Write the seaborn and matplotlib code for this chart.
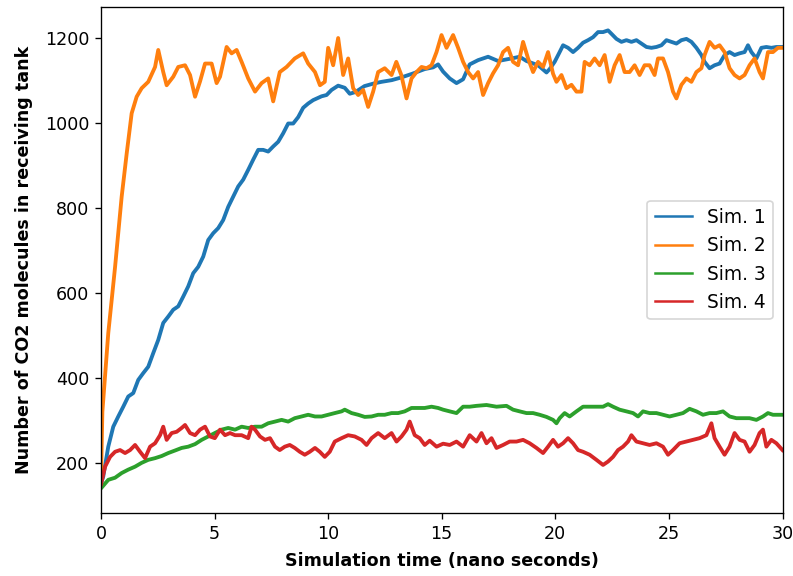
import numpy as np
import pandas as pd
import matplotlib
matplotlib.use("Agg")
import matplotlib.pyplot as plt
import seaborn as sns

# ---- Sim. 1 ----
t_sim1 = [0.0, 0.1, 0.32, 0.54, 0.76, 0.98, 1.2, 1.42, 1.64, 1.86, 2.08, 2.3, 2.52, 2.74, 2.96,
          3.18, 3.4, 3.62, 3.84, 4.06, 4.28, 4.5, 4.72, 4.94, 5.16, 5.38, 5.6, 5.82, 6.04, 6.26,
          6.48, 6.7, 6.92, 7.14, 7.36, 7.58, 7.8, 8.02, 8.24, 8.46, 8.68, 8.9, 9.12, 9.34, 9.71,
          9.93, 10.15, 10.44, 10.73, 10.95, 11.2, 11.6, 12.0, 12.35, 12.8, 13.2, 13.7, 14.25,
          14.62, 14.84, 15.06, 15.35, 15.65, 15.94, 16.23, 16.6, 17.04, 17.48, 18.07, 18.43,
          18.73, 19.24, 19.61, 19.75, 19.97, 20.19, 20.34, 20.56, 20.78, 21.0, 21.22, 21.44,
          21.66, 21.88, 22.1, 22.32, 22.47, 22.69, 22.91, 23.13, 23.35, 23.57, 23.79, 24.01,
          24.23, 24.45, 24.67, 24.89, 25.11, 25.33, 25.55, 25.77, 25.99, 26.21, 26.43, 26.57,
          26.79, 27.01, 27.23, 27.45, 27.67, 27.89, 28.11, 28.33, 28.48, 28.63, 28.85, 29.07,
          29.29, 29.51, 29.73, 30.0]
n_sim1 = [150, 168, 238, 285, 309, 332, 356, 364, 395, 411, 426, 458, 489, 529, 544,
          560, 568, 591, 615, 646, 661, 685, 724, 740, 752, 771, 802, 826, 850, 866,
          889, 913, 936, 936, 932, 944, 955, 975, 998, 998, 1013, 1035, 1045, 1053, 1062,
          1065, 1077, 1087, 1082, 1068, 1072, 1086, 1092, 1096, 1100, 1106, 1115, 1126,
          1130, 1137, 1120, 1104, 1093, 1102, 1137, 1147, 1155, 1145, 1151, 1155,
          1145, 1135, 1118, 1126, 1143, 1166, 1182, 1176, 1166, 1176, 1188, 1194,
          1201, 1213, 1213, 1217, 1209, 1197, 1190, 1194, 1190, 1194, 1186, 1178,
          1176, 1178, 1182, 1194, 1190, 1186, 1194, 1197, 1190, 1176, 1159, 1143,
          1128, 1135, 1139, 1159, 1166, 1159, 1163, 1166, 1182, 1166, 1151, 1176,
          1178, 1176, 1178, 1178]

# ---- Sim. 2 ----
t_sim2 = [0.0, 0.06, 0.32, 0.62, 0.91, 1.13, 1.35, 1.57, 1.79, 2.08, 2.38, 2.52, 2.74, 2.89,
          3.18, 3.4, 3.7, 3.92, 4.14, 4.36, 4.58, 4.87, 5.09, 5.24, 5.53, 5.75, 5.97, 6.19,
          6.48, 6.78, 7.07, 7.36, 7.58, 7.87, 8.17, 8.53, 8.9, 9.12, 9.42, 9.64, 9.85, 10.0,
          10.22, 10.44, 10.66, 10.88, 11.1, 11.32, 11.54, 11.76, 11.98, 12.2, 12.49, 12.79,
          13.0, 13.22, 13.45, 13.67, 13.89, 14.11, 14.33, 14.55, 14.77, 14.99, 15.21, 15.5,
          15.72, 15.94, 16.16, 16.38, 16.6, 16.82, 17.04, 17.26, 17.48, 17.7, 17.92, 18.14,
          18.36, 18.58, 18.8, 19.02, 19.24, 19.46, 19.68, 19.9, 20.05, 20.27, 20.49, 20.71,
          20.93, 21.15, 21.29, 21.51, 21.73, 21.95, 22.17, 22.39, 22.61, 22.83, 23.05, 23.27,
          23.49, 23.71, 23.93, 24.15, 24.37, 24.52, 24.74, 24.96, 25.18, 25.33, 25.55, 25.77,
          25.99, 26.21, 26.43, 26.57, 26.79, 27.01, 27.23, 27.45, 27.67, 27.89, 28.11, 28.33,
          28.55, 28.77, 28.99, 29.14, 29.36, 29.58, 29.8, 30.0]
n_sim2 = [160, 320, 505, 661, 826, 927, 1022, 1061, 1081, 1096, 1131, 1171, 1119, 1088,
          1108, 1131, 1135, 1112, 1061, 1097, 1139, 1139, 1093, 1108, 1178, 1163, 1171, 1143,
          1104, 1073, 1093, 1104, 1050, 1119, 1131, 1151, 1163, 1139, 1119, 1088, 1096, 1176,
          1135, 1199, 1112, 1151, 1081, 1065, 1077, 1037, 1073, 1119, 1128, 1112,
          1143, 1112, 1057, 1104, 1119, 1131, 1128, 1135, 1166, 1206, 1176, 1206,
          1176, 1143, 1119, 1104, 1119, 1065, 1093, 1116, 1135, 1166, 1176, 1143,
          1135, 1190, 1151, 1119, 1143, 1131, 1166, 1115, 1096, 1112, 1081, 1089,
          1073, 1073, 1143, 1135, 1151, 1135, 1159, 1096, 1135, 1159, 1119, 1119,
          1135, 1112, 1135, 1135, 1112, 1151, 1151, 1119, 1073, 1057, 1089, 1104,
          1096, 1119, 1128, 1159, 1190, 1176, 1182, 1166, 1128, 1112, 1104, 1112,
          1135, 1151, 1119, 1104, 1166, 1166, 1176, 1176]

# ---- Sim. 3 ----
t_sim3 = [0.0, 0.32, 0.62, 0.91, 1.2, 1.5, 1.79, 2.08, 2.38, 2.67, 2.96, 3.26, 3.55, 3.84,
          4.14, 4.43, 4.72, 5.01, 5.31, 5.6, 5.9, 6.19, 6.48, 6.78, 7.07, 7.36, 7.66, 7.95,
          8.24, 8.53, 8.83, 9.12, 9.42, 9.71, 10.0, 10.29, 10.59, 10.73, 11.03, 11.32, 11.61,
          11.91, 12.2, 12.49, 12.79, 13.08, 13.37, 13.67, 13.96, 14.25, 14.55, 14.84, 15.06,
          15.35, 15.65, 15.94, 16.23, 16.53, 16.97, 17.41, 17.85, 18.14, 18.43, 18.73, 19.02,
          19.31, 19.61, 19.9, 20.05, 20.19, 20.41, 20.63, 20.93, 21.22, 21.51, 21.81, 22.1,
          22.32, 22.54, 22.83, 23.13, 23.42, 23.64, 23.86, 24.15, 24.45, 24.74, 25.03, 25.33,
          25.62, 25.91, 26.21, 26.5, 26.79, 27.09, 27.38, 27.67, 27.97, 28.26, 28.55, 28.85,
          29.14, 29.36, 29.58, 30.0]
n_sim3 = [140, 160, 165, 176, 184, 191, 200, 207, 211, 216, 223, 229, 235, 238,
          244, 254, 262, 270, 278, 282, 278, 285, 282, 285, 285, 293, 297, 301,
          297, 305, 309, 313, 309, 309, 313, 317, 321, 325, 317, 313, 308,
          309, 313, 313, 317, 317, 321, 329, 329, 329, 332, 329, 325,
          321, 317, 332, 332, 334, 336, 332, 334, 325, 321, 317, 317,
          313, 308, 301, 293, 305, 317, 309, 321, 332, 332, 332, 332,
          338, 332, 325, 321, 317, 309, 321, 317, 317, 313, 309, 313,
          317, 327, 321, 313, 317, 317, 321, 309, 305, 305, 305, 301,
          309, 317, 313, 313]

# ---- Sim. 4 ----
t_sim4 = [0.0, 0.18, 0.4, 0.62, 0.84, 1.06, 1.28, 1.5, 1.72, 1.94, 2.16, 2.38, 2.6, 2.74,
          2.89, 3.11, 3.33, 3.55, 3.7, 3.92, 4.14, 4.36, 4.58, 4.8, 5.01, 5.24, 5.46, 5.68,
          5.9, 6.19, 6.48, 6.63, 6.78, 7.0, 7.22, 7.44, 7.66, 7.87, 8.09, 8.31, 8.53, 8.75,
          8.97, 9.19, 9.42, 9.63, 9.85, 10.07, 10.29, 10.59, 10.88, 11.17, 11.47, 11.69,
          11.91, 12.2, 12.49, 12.79, 13.01, 13.23, 13.45, 13.59, 13.81, 14.03, 14.25, 14.47,
          14.77, 15.06, 15.35, 15.65, 15.94, 16.23, 16.53, 16.75, 16.97, 17.19, 17.41, 17.7,
          17.99, 18.29, 18.58, 18.87, 19.17, 19.46, 19.68, 19.9, 20.12, 20.34, 20.56, 20.78,
          21.0, 21.22, 21.51, 21.81, 22.1, 22.32, 22.54, 22.76, 22.98, 23.2, 23.35, 23.57,
          23.86, 24.15, 24.45, 24.74, 24.96, 25.18, 25.47, 25.77, 26.06, 26.35, 26.65, 26.87,
          27.01, 27.23, 27.45, 27.67, 27.89, 28.11, 28.33, 28.55, 28.77, 28.99, 29.14, 29.29,
          29.51, 29.73, 30.0]
n_sim4 = [150, 191, 214, 226, 230, 223, 230, 242, 226, 211, 238, 246, 265, 285,
          254, 270, 273, 282, 289, 270, 265, 278, 285, 262, 258, 278, 265, 270,
          265, 265, 258, 285, 278, 262, 254, 258, 238, 230, 238, 242, 235, 226,
          219, 226, 235, 226, 214, 226, 250, 258, 265, 262, 254, 242,
          258, 270, 258, 270, 250, 262, 278, 297, 265, 258, 242, 252,
          238, 245, 242, 250, 238, 265, 250, 270, 246, 258, 235, 242,
          250, 250, 254, 246, 235, 223, 238, 254, 238, 246, 258, 246,
          230, 226, 219, 207, 195, 203, 214, 230, 238, 250, 265, 250,
          246, 242, 246, 238, 219, 230, 246, 250, 254, 258, 265, 293,
          258, 238, 219, 238, 270, 254, 250, 226, 242, 270, 278, 238,
          254, 246, 230]

labels = ["Sim. 1", "Sim. 2", "Sim. 3", "Sim. 4"]
times = [t_sim1, t_sim2, t_sim3, t_sim4]
counts = [n_sim1, n_sim2, n_sim3, n_sim4]

df = pd.concat(
    [pd.DataFrame({"time": t, "count": n, "run": lab}) for t, n, lab in zip(times, counts, labels)],
    ignore_index=True,
)

fig = plt.figure(figsize=(793 / 120, 576 / 120), dpi=120)
ax = fig.add_axes([101 / 793, 1 - 513 / 576, (782.5 - 101) / 793, (513 - 7) / 576])

palette = ["#1f77b4", "#ff7f0e", "#2ca02c", "#d62728"]
sns.lineplot(data=df, x="time", y="count", hue="run", hue_order=labels,
             palette=palette, estimator=None, sort=True, linewidth=2.3, ax=ax)

ax.set_xlim(0, 30)
ax.set_ylim(82, 1272)
ax.set_xticks([0, 5, 10, 15, 20, 25, 30])
ax.set_yticks([200, 400, 600, 800, 1000, 1200])
ax.tick_params(labelsize=10.5)
ax.set_xlabel("Simulation time (nano seconds)", fontweight="bold", fontsize=10.5, labelpad=5.5)
ax.set_ylabel("Number of CO2 molecules in receiving tank", fontweight="bold",
              fontsize=10.5, labelpad=7)

handles, leg_labels = ax.get_legend_handles_labels()
leg = ax.legend(handles, leg_labels, loc="center right", fontsize=11.2)
for line in leg.get_lines():
    line.set_linewidth(1.5)

fig.savefig("out.png", dpi=120)
